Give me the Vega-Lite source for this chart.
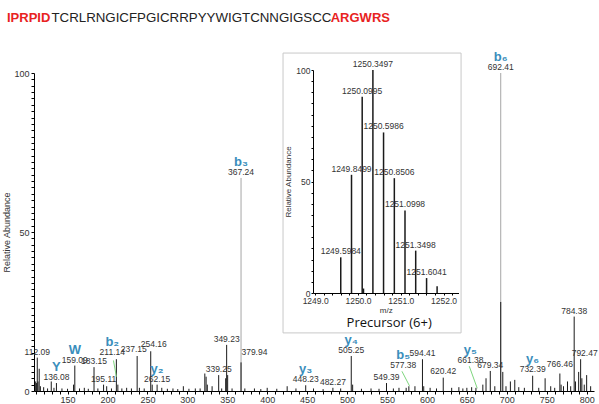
{
  "$schema": "https://vega.github.io/schema/vega-lite/v6.json",
  "width": 560,
  "height": 318,
  "autosize": {"type": "none"},
  "padding": {"left": 34, "top": 73, "right": 5, "bottom": 13},
  "background": "white",
  "config": {
    "view": {"stroke": null},
    "font": "Liberation Sans",
    "axis": {"grid": false, "domainColor": "#000", "tickColor": "#000", "labelColor": "#333", "titleColor": "#333", "titleFontWeight": "normal", "labelFont": "Liberation Sans", "titleFont": "Liberation Sans"}
  },
  "datasets": {
    "peaks": [
      {"mz": 367.24, "ab": 67, "kind": "ann"},
      {"mz": 692.41, "ab": 100, "kind": "ann"},
      {"mz": 110.1, "ab": 3, "kind": "raw"},
      {"mz": 111.0, "ab": 2.5, "kind": "raw"},
      {"mz": 112.09, "ab": 10.5, "kind": "raw"},
      {"mz": 113.0, "ab": 3, "kind": "raw"},
      {"mz": 114.5, "ab": 7, "kind": "raw"},
      {"mz": 116.0, "ab": 1.5, "kind": "raw"},
      {"mz": 120.1, "ab": 1.2, "kind": "raw"},
      {"mz": 125.0, "ab": 0.8, "kind": "raw"},
      {"mz": 129.6, "ab": 3, "kind": "raw"},
      {"mz": 133.0, "ab": 1, "kind": "raw"},
      {"mz": 136.08, "ab": 2.5, "kind": "raw"},
      {"mz": 143.0, "ab": 0.8, "kind": "raw"},
      {"mz": 150.0, "ab": 0.7, "kind": "raw"},
      {"mz": 157.5, "ab": 2, "kind": "raw"},
      {"mz": 159.09, "ab": 8, "kind": "raw"},
      {"mz": 165.0, "ab": 0.8, "kind": "raw"},
      {"mz": 171.0, "ab": 1, "kind": "raw"},
      {"mz": 176.0, "ab": 0.7, "kind": "raw"},
      {"mz": 183.15, "ab": 7.5, "kind": "raw"},
      {"mz": 188.0, "ab": 0.8, "kind": "raw"},
      {"mz": 195.11, "ab": 2, "kind": "raw"},
      {"mz": 199.0, "ab": 1.5, "kind": "raw"},
      {"mz": 205.0, "ab": 0.8, "kind": "raw"},
      {"mz": 211.14, "ab": 10, "kind": "raw"},
      {"mz": 213.0, "ab": 2, "kind": "raw"},
      {"mz": 218.0, "ab": 0.8, "kind": "raw"},
      {"mz": 224.0, "ab": 1, "kind": "raw"},
      {"mz": 230.0, "ab": 0.8, "kind": "raw"},
      {"mz": 237.15, "ab": 11, "kind": "raw"},
      {"mz": 240.0, "ab": 1, "kind": "raw"},
      {"mz": 246.0, "ab": 0.8, "kind": "raw"},
      {"mz": 254.16, "ab": 12.5, "kind": "raw"},
      {"mz": 256.0, "ab": 2, "kind": "raw"},
      {"mz": 262.15, "ab": 2, "kind": "raw"},
      {"mz": 268.0, "ab": 1, "kind": "raw"},
      {"mz": 275.0, "ab": 0.7, "kind": "raw"},
      {"mz": 282.0, "ab": 0.8, "kind": "raw"},
      {"mz": 288.0, "ab": 0.6, "kind": "raw"},
      {"mz": 295.0, "ab": 1.5, "kind": "raw"},
      {"mz": 302.0, "ab": 0.7, "kind": "raw"},
      {"mz": 310.0, "ab": 0.8, "kind": "raw"},
      {"mz": 316.0, "ab": 0.8, "kind": "raw"},
      {"mz": 321.9, "ab": 5.5, "kind": "raw"},
      {"mz": 323.5, "ab": 4.5, "kind": "raw"},
      {"mz": 325.0, "ab": 2, "kind": "raw"},
      {"mz": 331.0, "ab": 1.5, "kind": "raw"},
      {"mz": 339.25, "ab": 5, "kind": "raw"},
      {"mz": 343.0, "ab": 0.8, "kind": "raw"},
      {"mz": 348.0, "ab": 4, "kind": "raw"},
      {"mz": 349.23, "ab": 14.5, "kind": "raw"},
      {"mz": 350.5, "ab": 5, "kind": "raw"},
      {"mz": 356.0, "ab": 0.8, "kind": "raw"},
      {"mz": 367.24, "ab": 9, "kind": "raw"},
      {"mz": 372.0, "ab": 0.8, "kind": "raw"},
      {"mz": 384.0, "ab": 0.8, "kind": "raw"},
      {"mz": 392.0, "ab": 0.6, "kind": "raw"},
      {"mz": 400.0, "ab": 1, "kind": "raw"},
      {"mz": 412.0, "ab": 0.7, "kind": "raw"},
      {"mz": 425.0, "ab": 1.5, "kind": "raw"},
      {"mz": 436.0, "ab": 0.8, "kind": "raw"},
      {"mz": 448.23, "ab": 1.8, "kind": "raw"},
      {"mz": 458.0, "ab": 0.8, "kind": "raw"},
      {"mz": 470.0, "ab": 0.6, "kind": "raw"},
      {"mz": 482.27, "ab": 1, "kind": "raw"},
      {"mz": 492.0, "ab": 0.8, "kind": "raw"},
      {"mz": 505.25, "ab": 11, "kind": "raw"},
      {"mz": 507.0, "ab": 2, "kind": "raw"},
      {"mz": 518.0, "ab": 0.7, "kind": "raw"},
      {"mz": 530.0, "ab": 0.8, "kind": "raw"},
      {"mz": 540.0, "ab": 0.7, "kind": "raw"},
      {"mz": 549.39, "ab": 2.5, "kind": "raw"},
      {"mz": 558.0, "ab": 0.8, "kind": "raw"},
      {"mz": 565.0, "ab": 1, "kind": "raw"},
      {"mz": 574.0, "ab": 1, "kind": "raw"},
      {"mz": 577.38, "ab": 1.5, "kind": "raw"},
      {"mz": 585.0, "ab": 1.5, "kind": "raw"},
      {"mz": 594.41, "ab": 10, "kind": "raw"},
      {"mz": 596.0, "ab": 1.5, "kind": "raw"},
      {"mz": 604.0, "ab": 1, "kind": "raw"},
      {"mz": 612.0, "ab": 0.8, "kind": "raw"},
      {"mz": 620.42, "ab": 4.2, "kind": "raw"},
      {"mz": 631.0, "ab": 1, "kind": "raw"},
      {"mz": 640.0, "ab": 1.2, "kind": "raw"},
      {"mz": 645.0, "ab": 0.8, "kind": "raw"},
      {"mz": 650.0, "ab": 1, "kind": "raw"},
      {"mz": 656.0, "ab": 1.2, "kind": "raw"},
      {"mz": 661.38, "ab": 1, "kind": "raw"},
      {"mz": 670.0, "ab": 2, "kind": "raw"},
      {"mz": 674.0, "ab": 4, "kind": "raw"},
      {"mz": 679.34, "ab": 6.3, "kind": "raw"},
      {"mz": 685.0, "ab": 1.5, "kind": "raw"},
      {"mz": 692.41, "ab": 28, "kind": "raw"},
      {"mz": 695.0, "ab": 6, "kind": "raw"},
      {"mz": 699.0, "ab": 1.5, "kind": "raw"},
      {"mz": 704.5, "ab": 3, "kind": "raw"},
      {"mz": 710.0, "ab": 3.5, "kind": "raw"},
      {"mz": 715.0, "ab": 1.2, "kind": "raw"},
      {"mz": 722.0, "ab": 1, "kind": "raw"},
      {"mz": 732.39, "ab": 4.8, "kind": "raw"},
      {"mz": 740.0, "ab": 1, "kind": "raw"},
      {"mz": 748.0, "ab": 4, "kind": "raw"},
      {"mz": 755.0, "ab": 1.5, "kind": "raw"},
      {"mz": 760.0, "ab": 1, "kind": "raw"},
      {"mz": 766.46, "ab": 5.5, "kind": "raw"},
      {"mz": 768.0, "ab": 2, "kind": "raw"},
      {"mz": 771.0, "ab": 1.5, "kind": "raw"},
      {"mz": 776.0, "ab": 3, "kind": "raw"},
      {"mz": 780.0, "ab": 1.5, "kind": "raw"},
      {"mz": 784.38, "ab": 23.4, "kind": "raw"},
      {"mz": 786.0, "ab": 3, "kind": "raw"},
      {"mz": 790.0, "ab": 6, "kind": "raw"},
      {"mz": 792.47, "ab": 10, "kind": "raw"},
      {"mz": 794.0, "ab": 4, "kind": "raw"},
      {"mz": 797.0, "ab": 2, "kind": "raw"},
      {"mz": 800.0, "ab": 5, "kind": "raw"},
      {"mz": 805.0, "ab": 1.5, "kind": "raw"}
    ],
    "labels": [
      {"lab": "112.09", "mz": 112.09, "ab": 10.5},
      {"lab": "136.08", "ion": "Y", "mz": 136.08, "ab": 2.5},
      {"lab": "159.09", "ion": "W", "mz": 159.09, "ab": 8},
      {"lab": "183.15", "mz": 183.15, "ab": 7.5},
      {"lab": "195.11", "mz": 195.11, "ab": 2},
      {"lab": "211.14", "ion": "b₂", "mz": 206, "ab": 10.3},
      {"lab": "237.15", "mz": 233, "ab": 11.3},
      {"lab": "254.16", "mz": 258, "ab": 12.8},
      {"lab": "262.15", "ion": "y₂", "mz": 262.15, "ab": 2},
      {"lab": "339.25", "mz": 339.25, "ab": 5},
      {"lab": "349.23", "mz": 349.23, "ab": 14.5},
      {"lab": "367.24", "ion": "b₃", "mz": 367.24, "ab": 67},
      {"lab": "379.94", "mz": 384, "ab": 10.5},
      {"lab": "448.23", "ion": "y₃", "mz": 448.23, "ab": 1.8},
      {"lab": "482.27", "mz": 482.27, "ab": 1},
      {"lab": "505.25", "ion": "y₄", "mz": 505.25, "ab": 11},
      {"lab": "549.39", "mz": 549.39, "ab": 2.5},
      {"lab": "577.38", "ion": "b₅", "mz": 570.4, "ab": 6.4},
      {"lab": "594.41", "mz": 594.41, "ab": 10},
      {"lab": "620.42", "mz": 620.42, "ab": 4.4},
      {"lab": "661.38", "ion": "y₅", "mz": 654.5, "ab": 8},
      {"lab": "679.34", "mz": 679.34, "ab": 6.3},
      {"lab": "692.41", "ion": "b₆", "mz": 692.41, "ab": 100},
      {"lab": "732.39", "ion": "y₆", "mz": 732.39, "ab": 4.9},
      {"lab": "766.46", "mz": 766.46, "ab": 6.5},
      {"lab": "784.38", "mz": 784.38, "ab": 23.4},
      {"lab": "792.47", "mz": 797.5, "ab": 10}
    ],
    "leaders": [
      {"mz": 207.5, "ab": 9.6, "mz2": 211.14, "ab2": 4.5},
      {"mz": 568.7, "ab": 6.2, "mz2": 578.2, "ab2": 1.6},
      {"mz": 653.0, "ab": 7.8, "mz2": 663.0, "ab2": 0.85}
    ],
    "iso": [
      {"mz": 1249.5984, "ab": 16, "lab": "1249.5984"},
      {"mz": 1249.8499, "ab": 53, "lab": "1249.8499"},
      {"mz": 1250.0995, "ab": 88, "lab": "1250.0995"},
      {"mz": 1250.13, "ab": 2},
      {"mz": 1250.3497, "ab": 100, "lab": "1250.3497"},
      {"mz": 1250.5986, "ab": 72, "lab": "1250.5986"},
      {"mz": 1250.8506, "ab": 51.5, "lab": "1250.8506"},
      {"mz": 1251.0998, "ab": 37, "lab": "1251.0998"},
      {"mz": 1251.3498, "ab": 19, "lab": "1251.3498"},
      {"mz": 1251.6041, "ab": 6.7, "lab": "1251.6041"},
      {"mz": 1251.85, "ab": 3}
    ]
  },
  "layer": [
    {
      "layer": [
        {
          "data": {"name": "peaks"},
          "mark": {"type": "rule", "strokeWidth": 1},
          "encoding": {
            "x": {"field": "mz", "type": "quantitative", "scale": {"domain": [108, 809.2], "nice": false, "zero": false},
              "axis": {"title": null, "tickCount": 70, "labelExpr": "datum.value % 50 === 0 ? datum.label : ''", "labelOverlap": false, "labelFontSize": 9, "tickSize": 3, "labelPadding": 1, "format": "d"}},
            "y": {"field": "ab", "type": "quantitative", "scale": {"domain": [0, 100], "nice": false, "zero": false},
              "axis": {"title": "Relative Abundance", "tickCount": 50, "labelExpr": "datum.value % 50 === 0 ? datum.label : ''", "labelOverlap": false, "labelFontSize": 9, "tickSize": 3, "labelPadding": 2, "titleFontSize": 9, "titlePadding": 2}},
            "y2": {"datum": 0},
            "color": {"field": "kind", "type": "nominal", "scale": {"domain": ["ann", "raw"], "range": ["#a6a6a6", "#1a1a1a"]}, "legend": null}
          }
        },
        {
          "data": {"name": "leaders"},
          "mark": {"type": "rule", "color": "#7ed67e", "strokeWidth": 1},
          "encoding": {
            "x": {"field": "mz", "type": "quantitative"},
            "y": {"field": "ab", "type": "quantitative"},
            "x2": {"field": "mz2"},
            "y2": {"field": "ab2"}
          }
        },
        {
          "data": {"name": "labels"},
          "mark": {"type": "text", "fontSize": 8.5, "color": "#333", "baseline": "bottom", "dy": -1},
          "encoding": {
            "x": {"field": "mz", "type": "quantitative"},
            "y": {"field": "ab", "type": "quantitative"},
            "text": {"field": "lab"}
          }
        },
        {
          "data": {"name": "labels"},
          "transform": [{"filter": "datum.ion"}],
          "mark": {"type": "text", "fontSize": 13, "fontWeight": "bold", "color": "#3a8ebc", "baseline": "bottom", "dy": -9},
          "encoding": {
            "x": {"field": "mz", "type": "quantitative"},
            "y": {"field": "ab", "type": "quantitative"},
            "text": {"field": "ion"}
          }
        },
        {
          "data": {"values": [{"t": "IPRPID"}]},
          "mark": {"type": "text", "fontSize": 13, "fontWeight": "bold", "color": "#e8231f", "align": "left", "baseline": "middle"},
          "encoding": {"x": {"datum": 74.2}, "y": {"datum": 117.3}, "text": {"field": "t"}}
        },
        {
          "data": {"values": [{"t": "TCRLRNGICFPGICRRPYYWIGTCNNGIGSCC"}]},
          "mark": {"type": "text", "fontSize": 13.3, "color": "#222", "align": "left", "baseline": "middle"},
          "encoding": {"x": {"datum": 129.8}, "y": {"datum": 117.3}, "text": {"field": "t"}}
        },
        {
          "data": {"values": [{"t": "ARGWRS"}]},
          "mark": {"type": "text", "fontSize": 13, "fontWeight": "bold", "color": "#e8231f", "align": "right", "baseline": "middle"},
          "encoding": {"x": {"datum": 553.7}, "y": {"datum": 117.3}, "text": {"field": "t"}}
        }
      ]
    },
    {
      "layer": [
        {
          "data": {"values": [{"box": 1}]},
          "mark": {"type": "rect", "fill": "white", "stroke": "#c8c8c8", "strokeWidth": 1},
          "encoding": {
            "x": {"datum": 1248.25, "type": "quantitative", "scale": {"domain": [1248.95, 1252.35], "range": [279, 424.5], "nice": false, "zero": false},
              "axis": {"orient": "bottom", "offset": -98, "zindex": 2, "title": "m/z", "titleFontSize": 8, "titlePadding": 2, "tickCount": 17, "labelExpr": "abs(datum.value - round(datum.value)) < 0.001 ? format(datum.value, '.1f') : ''", "labelOverlap": false, "labelFontSize": 8.5, "tickSize": 2, "labelPadding": 1}},
            "x2": {"datum": 1252.41},
            "y": {"datum": 107.6, "type": "quantitative", "scale": {"domain": [0, 100], "range": [220, -3], "nice": false, "zero": false},
              "axis": {"orient": "left", "offset": -279, "zindex": 2, "title": "Relative Abundance", "titleFontSize": 8, "titlePadding": 3, "tickCount": 20, "labelExpr": "datum.value % 50 === 0 ? datum.label : ''", "labelOverlap": false, "labelFontSize": 8.5, "tickSize": 2, "labelPadding": 1}},
            "y2": {"datum": -17.9}
          }
        },
        {
          "data": {"name": "iso"},
          "mark": {"type": "rule", "strokeWidth": 1.5, "color": "#1a1a1a"},
          "encoding": {
            "x": {"field": "mz", "type": "quantitative"},
            "y": {"field": "ab", "type": "quantitative"},
            "y2": {"datum": 0}
          }
        },
        {
          "data": {"name": "iso"},
          "transform": [{"filter": "datum.lab"}],
          "mark": {"type": "text", "fontSize": 8.5, "color": "#333", "baseline": "bottom", "dy": -1},
          "encoding": {
            "x": {"field": "mz", "type": "quantitative"},
            "y": {"field": "ab", "type": "quantitative"},
            "text": {"field": "lab"}
          }
        },
        {
          "data": {"values": [{"t": "Precursor (6+)"}]},
          "mark": {"type": "text", "font": "Open Sans", "fontSize": 13, "color": "#111", "baseline": "middle"},
          "encoding": {"x": {"datum": 1250.73}, "y": {"datum": -13.5}, "text": {"field": "t"}}
        }
      ]
    }
  ],
  "resolve": {"scale": {"x": "independent", "y": "independent"}, "axis": {"x": "independent", "y": "independent"}}
}
